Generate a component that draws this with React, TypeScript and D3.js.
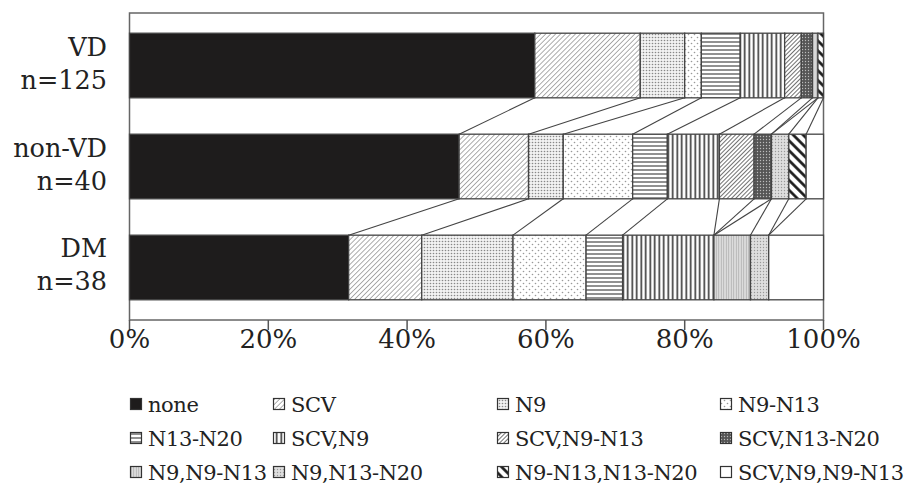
import React from "react";
import * as d3 from "d3";

const groups = ["VD", "non-VD", "DM"];
const groupN = ["n=125", "n=40", "n=38"];
const categories = [
  "none", "SCV", "N9", "N9-N13", "N13-N20", "SCV,N9", "SCV,N9-N13",
  "SCV,N13-N20", "N9,N9-N13", "N9,N13-N20", "N9-N13,N13-N20", "SCV,N9,N9-N13",
];
// counts per category
const countsVD = [73, 19, 8, 3, 7, 8, 3, 2, 1, 0, 1, 0];
const countsNonVD = [19, 4, 2, 4, 2, 3, 2, 1, 0, 1, 1, 1];
const countsDM = [12, 4, 5, 4, 2, 5, 0, 0, 2, 1, 0, 3];
const allCounts = [countsVD, countsNonVD, countsDM];
const xTicks = [0, 20, 40, 60, 80, 100];

const W = 923, H = 490;
const left = 129.5, right = 823.5, top = 13, bottom = 320;
const font = "'DejaVu Serif', serif";

export default function App() {
  const x = d3.scaleLinear().domain([0, 100]).range([left, right]);
  const y = d3.scaleBand<string>().domain(groups).range([top, bottom]).paddingInner(0.36).paddingOuter(0.2);
  const bw = y.bandwidth();

  const rows = allCounts.map((c, gi) => {
    const total = d3.sum(c);
    let acc = 0;
    const segs = c.map((v, ci) => {
      const s = (acc / total) * 100;
      acc += v;
      const e = (acc / total) * 100;
      return { ci, s, e, v };
    });
    return { g: groups[gi], segs };
  });

  const fills = categories.map((_, i) => `url(#p${i})`);
  fills[0] = "#1e1c1c";
  fills[11] = "#ffffff";

  return (
    <svg width={W} height={H} style={{ position: "absolute", left: 0, top: 0 }}>
      <rect width={W} height={H} fill="#fff" />
      <defs>
        <pattern id="p1" patternUnits="userSpaceOnUse" width={3.5} height={3.5} patternTransform="rotate(45)">
          <rect width={3.5} height={3.5} fill="#fff" />
          <line x1={0} y1={0} x2={0} y2={3.5} stroke="#777" strokeWidth={1.2} />
        </pattern>
        <pattern id="p2" patternUnits="userSpaceOnUse" width={3} height={3}>
          <rect width={3} height={3} fill="#f2f2f2" />
          <circle cx={1.5} cy={1.5} r={0.8} fill="#888" />
        </pattern>
        <pattern id="p3" patternUnits="userSpaceOnUse" width={6} height={6}>
          <rect width={6} height={6} fill="#fff" />
          <circle cx={1.5} cy={1.5} r={0.8} fill="#999" />
          <circle cx={4.5} cy={4.5} r={0.8} fill="#999" />
        </pattern>
        <pattern id="p4" patternUnits="userSpaceOnUse" width={4} height={4}>
          <rect width={4} height={4} fill="#fff" />
          <line x1={0} y1={2} x2={4} y2={2} stroke="#555" strokeWidth={1.3} />
        </pattern>
        <pattern id="p5" patternUnits="userSpaceOnUse" width={4.5} height={4.5}>
          <rect width={4.5} height={4.5} fill="#fff" />
          <line x1={2.25} y1={0} x2={2.25} y2={4.5} stroke="#333" strokeWidth={1.6} />
        </pattern>
        <pattern id="p6" patternUnits="userSpaceOnUse" width={3} height={3} patternTransform="rotate(45)">
          <rect width={3} height={3} fill="#fff" />
          <line x1={0} y1={0} x2={0} y2={3} stroke="#333" strokeWidth={1.4} />
        </pattern>
        <pattern id="p7" patternUnits="userSpaceOnUse" width={3} height={3}>
          <rect width={3} height={3} fill="#555" />
          <circle cx={1.5} cy={1.5} r={0.7} fill="#bbb" />
        </pattern>
        <pattern id="p8" patternUnits="userSpaceOnUse" width={2.5} height={2.5}>
          <rect width={2.5} height={2.5} fill="#dcdcdc" />
          <line x1={1.25} y1={0} x2={1.25} y2={2.5} stroke="#a8a8a8" strokeWidth={0.7} />
        </pattern>
        <pattern id="p9" patternUnits="userSpaceOnUse" width={3} height={3}>
          <rect width={3} height={3} fill="#dedede" />
          <circle cx={1.5} cy={1.5} r={0.7} fill="#999" />
        </pattern>
        <pattern id="p10" patternUnits="userSpaceOnUse" width={7} height={7} patternTransform="rotate(-45)">
          <rect width={7} height={7} fill="#fff" />
          <line x1={3.5} y1={0} x2={3.5} y2={7} stroke="#111" strokeWidth={2.6} />
        </pattern>
      </defs>

      {/* frame */}
      <rect x={left} y={top} width={right - left} height={bottom - top} fill="none" stroke="#666" strokeWidth={1.5} />
      {xTicks.map((t) => (
        <g key={t}>
          <line x1={x(t)} x2={x(t)} y1={bottom} y2={bottom + 10} stroke="#555" strokeWidth={1.5} />
          <text x={x(t)} y={348} textAnchor="middle" fontFamily={font} fontSize={26} fill="#222">{t}%</text>
        </g>
      ))}

      {/* connectors */}
      {rows.slice(0, -1).map((r, gi) => {
        const next = rows[gi + 1];
        const y1 = (y(r.g) as number) + bw;
        const y2 = y(next.g) as number;
        return r.segs.slice(0, -1).map((s, si) => (
          <line key={`c${gi}-${si}`} x1={x(s.e)} y1={y1} x2={x(next.segs[si].e)} y2={y2} stroke="#444" strokeWidth={1.1} />
        ));
      })}

      {/* bars */}
      {rows.map((r) => (
        <g key={r.g}>
          {r.segs.filter((s) => s.v > 0).map((s) => (
            <rect key={s.ci} x={x(s.s)} y={y(r.g)} width={x(s.e) - x(s.s)} height={bw} fill={fills[s.ci]} stroke="#444" strokeWidth={1.3} />
          ))}
        </g>
      ))}

      {/* group labels */}
      {groups.map((g, i) => {
        const cy = (y(g) as number) + bw / 2;
        return (
          <g key={g}>
            <text x={107} y={cy - 10} textAnchor="end" fontFamily={font} fontSize={25.5} fill="#222">{g}</text>
            <text x={107} y={cy + 23} textAnchor="end" fontFamily={font} fontSize={25.5} fill="#222">{groupN[i]}</text>
          </g>
        );
      })}

      {/* legend */}
      {categories.map((c, i) => {
        const colX = [130, 273, 497, 720][i % 4];
        const rowY = [404, 438, 472][Math.floor(i / 4)];
        return (
          <g key={c}>
            <rect x={colX + 0.5} y={rowY - 5.5} width={11} height={11} fill={fills[i]} stroke="#333" strokeWidth={1.2} />
            <text x={colX + 18} y={rowY + 7.5} fontFamily={font} fontSize={21} letterSpacing={-0.4} fill="#222">{c}</text>
          </g>
        );
      })}
    </svg>
  );
}
